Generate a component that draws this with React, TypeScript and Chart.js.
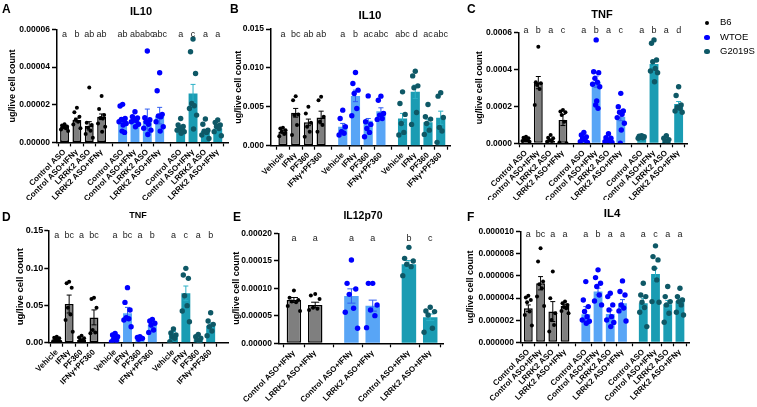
import React, { useEffect, useRef } from 'react';
import { Chart, registerables } from 'chart.js';
Chart.register(...registerables);

const FONT = '"Liberation Sans", Arial, Helvetica, sans-serif';
const GAP = 0.7;

const GROUPS = ['B6', 'WTOE', 'G2019S'];
const ASO_CATS = ['Control ASO', 'Control ASO+IFNγ', 'LRRK2 ASO', 'LRRK2 ASO+IFNγ'];
const PF_CATS = ['Vehicle', 'IFNγ', 'PF360', 'IFNγ+PF360'];
const IL12_CATS = ['Control ASO+IFNγ', 'LRRK2 ASO+IFNγ'];
const Y_TITLE = 'ug/live cell count';

// ---------- Panel A: IL10 (ASO) ----------
const A_TICKS = ['0.00000', '0.00002', '0.00004', '0.00006'];
const A_MEANS = [0.83e-5, 1.19e-5, 0.88e-5, 1.36e-5, 1.19e-5, 1.19e-5, 1.13e-5, 1.42e-5, 0.74e-5, 2.6e-5, 0.6e-5, 0.74e-5];
const A_SEM = [0.05e-5, 0.1e-5, 0.22e-5, 0.15e-5, 0.12e-5, 0.08e-5, 0.64e-5, 0.44e-5, 0.06e-5, 0.48e-5, 0.08e-5, 0.07e-5];
const A_POINTS = [
  [0.96e-5, 0.9e-5, 0.85e-5, 0.8e-5, 0.75e-5, 0.68e-5, 0.6e-5],
  [1.84e-5, 1.6e-5, 1.36e-5, 1.2e-5, 1.1e-5, 0.95e-5, 0.75e-5],
  [2.92e-5, 1.05e-5, 0.92e-5, 0.78e-5, 0.62e-5, 0.45e-5, 0.25e-5],
  [2.46e-5, 1.77e-5, 1.45e-5, 1.3e-5, 1.27e-5, 1.0e-5, 0.83e-5, 0.57e-5],
  [2.02e-5, 1.93e-5, 1.27e-5, 1.22e-5, 1.19e-5, 1.1e-5, 1.0e-5, 0.92e-5, 0.6e-5, 0.53e-5],
  [1.63e-5, 1.36e-5, 1.3e-5, 1.22e-5, 1.15e-5, 1.1e-5, 0.96e-5, 0.83e-5],
  [4.85e-5, 1.31e-5, 1.2e-5, 1.1e-5, 0.96e-5, 0.75e-5, 0.65e-5, 0.42e-5],
  [3.7e-5, 2.74e-5, 1.49e-5, 1.4e-5, 1.36e-5, 1.1e-5, 0.83e-5, 0.6e-5],
  [1.27e-5, 0.92e-5, 0.85e-5, 0.78e-5, 0.7e-5, 0.65e-5, 0.57e-5, 0.48e-5],
  [5.49e-5, 4.81e-5, 3.66e-5, 2.07e-5, 1.95e-5, 1.8e-5, 1.45e-5, 0.71e-5],
  [1.24e-5, 0.96e-5, 0.65e-5, 0.6e-5, 0.53e-5, 0.39e-5, 0.21e-5],
  [1.19e-5, 1.06e-5, 0.92e-5, 0.85e-5, 0.74e-5, 0.57e-5, 0.35e-5],
];
const A_LETTERS = ['a', 'b', 'ab', 'ab', 'ab', 'ab', 'abc', 'abc', 'a', 'c', 'a', 'a'];

// ---------- Panel B: IL10 (PF360) ----------
const B_TICKS = ['0.000', '0.005', '0.010', '0.015'];
const B_MEANS = [1.8e-3, 4.23e-3, 3.0e-3, 3.63e-3, 2.44e-3, 6.4e-3, 3.2e-3, 4.44e-3, 3.5e-3, 6.92e-3, 3.0e-3, 3.59e-3];
const B_SEM = [0.2e-3, 0.56e-3, 0.42e-3, 0.81e-3, 0.42e-3, 0.74e-3, 0.3e-3, 0.43e-3, 0.65e-3, 0.86e-3, 0.4e-3, 0.85e-3];
const B_POINTS = [
  [2.3e-3, 2.2e-3, 2.0e-3, 1.8e-3, 1.5e-3, 1.2e-3],
  [6.37e-3, 5.85e-3, 4.0e-3, 3.93e-3, 2.65e-3, 1.37e-3],
  [5.0e-3, 4.15e-3, 2.95e-3, 2.44e-3, 1.8e-3, 1.15e-3],
  [6.28e-3, 5.85e-3, 3.72e-3, 3.08e-3, 2.65e-3, 1.8e-3],
  [4.57e-3, 3.5e-3, 2.44e-3, 1.8e-3, 1.6e-3, 1.37e-3],
  [9.4e-3, 8.0e-3, 7.14e-3, 6.7e-3, 4.79e-3, 3.85e-3],
  [6.4e-3, 3.08e-3, 2.74e-3, 2.22e-3, 1.71e-3, 1.15e-3],
  [6.37e-3, 5.85e-3, 4.15e-3, 3.93e-3, 3.5e-3, 3.38e-3],
  [6.92e-3, 5.43e-3, 4.02e-3, 2.86e-3, 1.71e-3, 1.37e-3],
  [9.57e-3, 8.97e-3, 7.69e-3, 7.44e-3, 4.27e-3, 2.74e-3],
  [5.3e-3, 3.72e-3, 3.42e-3, 2.86e-3, 2.0e-3, 1.45e-3],
  [6.8e-3, 6.37e-3, 3.63e-3, 2.35e-3, 1.88e-3, 0.43e-3],
];
const B_LETTERS = ['a', 'bc', 'ab', 'ab', 'a', 'b', 'ac', 'abc', 'abc', 'd', 'ac', 'abc'];

// ---------- Panel C: TNF (ASO) ----------
const C_TICKS = ['0.0000', '0.0002', '0.0004', '0.0006'];
const C_MEANS = [0.18e-4, 3.28e-4, 0.14e-4, 1.26e-4, 0.13e-4, 3.33e-4, 0.09e-4, 1.44e-4, 0.36e-4, 4.29e-4, 0.09e-4, 2.13e-4];
const C_SEM = [0.03e-4, 0.33e-4, 0.04e-4, 0.3e-4, 0.06e-4, 0.3e-4, 0.05e-4, 0.22e-4, 0.02e-4, 0.15e-4, 0.04e-4, 0.13e-4];
const C_POINTS = [
  [0.36e-4, 0.3e-4, 0.27e-4, 0.22e-4, 0.18e-4, 0.12e-4, 0.09e-4],
  [5.22e-4, 3.3e-4, 3.24e-4, 3.15e-4, 2.94e-4, 2.07e-4],
  [0.45e-4, 0.3e-4, 0.27e-4, 0.18e-4, 0.12e-4, 0.09e-4],
  [1.8e-4, 1.72e-4, 1.68e-4, 1.53e-4, 1.17e-4, 0.05e-4, 0.0],
  [0.59e-4, 0.45e-4, 0.35e-4, 0.27e-4, 0.18e-4, 0.09e-4, 0.05e-4],
  [5.59e-4, 3.87e-4, 3.82e-4, 3.51e-4, 3.3e-4, 3.19e-4, 3.06e-4, 2.29e-4, 2.07e-4, 1.89e-4],
  [0.52e-4, 0.3e-4, 0.27e-4, 0.18e-4, 0.12e-4, 0.09e-4, 0.05e-4],
  [2.7e-4, 1.98e-4, 1.75e-4, 1.68e-4, 1.57e-4, 1.39e-4, 1.08e-4, 0.72e-4, 0.0],
  [0.41e-4, 0.38e-4, 0.36e-4, 0.33e-4, 0.3e-4, 0.27e-4],
  [5.59e-4, 5.41e-4, 4.5e-4, 4.41e-4, 4.05e-4, 3.91e-4, 3.82e-4, 3.33e-4],
  [0.41e-4, 0.27e-4, 0.2e-4, 0.13e-4, 0.05e-4],
  [3.06e-4, 2.58e-4, 2.07e-4, 1.95e-4, 1.89e-4, 1.75e-4, 1.68e-4],
];
const C_LETTERS = ['a', 'b', 'a', 'c', 'a', 'b', 'a', 'c', 'a', 'b', 'a', 'd'];

// ---------- Panel D: TNF (PF360) ----------
const D_TICKS = ['0.00', '0.05', '0.10', '0.15'];
const D_MEANS = [0.36e-2, 5.18e-2, 0.36e-2, 3.39e-2, 0.58e-2, 3.93e-2, 0.36e-2, 2.37e-2, 1.25e-2, 6.61e-2, 0.45e-2, 2.28e-2];
const D_SEM = [0.08e-2, 1.2e-2, 0.08e-2, 1.0e-2, 0.12e-2, 0.8e-2, 0.06e-2, 0.3e-2, 0.25e-2, 0.98e-2, 0.1e-2, 0.35e-2];
const D_POINTS = [
  [0.8e-2, 0.65e-2, 0.58e-2, 0.45e-2, 0.36e-2, 0.2e-2, 0.13e-2],
  [8.17e-2, 7.95e-2, 7.37e-2, 4.69e-2, 3.79e-2, 3.04e-2, 1.47e-2],
  [0.94e-2, 0.7e-2, 0.58e-2, 0.4e-2, 0.22e-2],
  [6.03e-2, 5.85e-2, 4.69e-2, 1.7e-2, 1.38e-2, 1.25e-2],
  [1.25e-2, 1.03e-2, 0.8e-2, 0.58e-2, 0.3e-2, 0.13e-2],
  [7.37e-2, 5.4e-2, 4.38e-2, 3.35e-2, 3.2e-2, 3.04e-2, 2.14e-2],
  [0.8e-2, 0.7e-2, 0.58e-2, 0.45e-2],
  [3.13e-2, 2.9e-2, 2.6e-2, 2.37e-2, 1.7e-2, 1.38e-2],
  [1.83e-2, 1.3e-2, 1.03e-2, 0.8e-2, 0.58e-2, 0.13e-2],
  [9.96e-2, 9.06e-2, 8.62e-2, 6.29e-2, 4.96e-2, 4.24e-2, 2.81e-2],
  [1.12e-2, 0.8e-2, 0.6e-2, 0.36e-2, 0.13e-2],
  [4.02e-2, 2.9e-2, 2.46e-2, 2.14e-2, 1.56e-2, 0.94e-2],
];
const D_LETTERS = ['a', 'bc', 'a', 'bc', 'a', 'bc', 'a', 'b', 'a', 'c', 'a', 'b'];

// ---------- Panel E: IL12p70 ----------
const E_TICKS = ['0.00000', '0.00005', '0.00010', '0.00015', '0.00020'];
const E_MEANS = [7.88e-5, 6.97e-5, 8.6e-5, 6.85e-5, 14.36e-5, 4.73e-5];
const E_SEM = [0.45e-5, 0.5e-5, 1.3e-5, 1.0e-5, 0.7e-5, 0.6e-5];
const E_POINTS = [
  [9.58e-5, 8.3e-5, 7.88e-5, 7.6e-5, 7.45e-5, 6.79e-5, 5.88e-5],
  [8.97e-5, 8.67e-5, 8.06e-5, 6.48e-5, 6.3e-5, 6.06e-5],
  [15.15e-5, 10.9e-5, 9.88e-5, 8.9e-5, 6.36e-5, 5.64e-5, 2.73e-5],
  [10.9e-5, 10.9e-5, 6.97e-5, 6.06e-5, 5.03e-5, 2.85e-5],
  [17.45e-5, 15.45e-5, 14.97e-5, 14.36e-5, 13.94e-5, 12.3e-5],
  [6.55e-5, 5.88e-5, 5.76e-5, 5.15e-5, 2.73e-5, 2.0e-5],
];
const E_LETTERS = ['a', 'a', 'a', 'a', 'b', 'c'];

// ---------- Panel F: IL4 ----------
const F_TICKS = ['0.000000', '0.000002', '0.000004', '0.000006', '0.000008', '0.000010'];
const F_MEANS = [3.08e-6, 5.34e-6, 2.78e-6, 3.29e-6, 2.53e-6, 4.59e-6, 2.56e-6, 3.53e-6, 3.53e-6, 6.18e-6, 3.44e-6, 3.74e-6];
const F_SEM = [0.3e-6, 0.6e-6, 0.9e-6, 0.15e-6, 0.7e-6, 0.3e-6, 0.35e-6, 0.33e-6, 0.45e-6, 0.52e-6, 0.35e-6, 0.25e-6];
const F_POINTS = [
  [4.22e-6, 4.04e-6, 3.83e-6, 3.62e-6, 2.78e-6, 2.47e-6, 1.51e-6],
  [8.5e-6, 7.3e-6, 5.49e-6, 5.25e-6, 4.89e-6, 4.13e-6, 3.29e-6],
  [6.4e-6, 3.98e-6, 2.62e-6, 2.02e-6, 1.57e-6, 0.97e-6],
  [3.68e-6, 3.53e-6, 3.38e-6, 3.2e-6, 3.08e-6, 2.84e-6, 2.62e-6],
  [5.49e-6, 3.83e-6, 3.23e-6, 2.78e-6, 2.32e-6, 2.02e-6, 1.9e-6, 1.72e-6],
  [6.55e-6, 5.85e-6, 5.34e-6, 5.04e-6, 4.28e-6, 3.74e-6, 3.38e-6],
  [4.43e-6, 4.13e-6, 3.38e-6, 2.93e-6, 2.32e-6, 2.02e-6, 1.8e-6, 1.42e-6],
  [5.55e-6, 4.59e-6, 4.28e-6, 3.38e-6, 3.1e-6, 2.84e-6, 1.93e-6],
  [5.34e-6, 4.28e-6, 4.13e-6, 3.62e-6, 3.14e-6, 2.72e-6, 1.42e-6],
  [8.72e-6, 7.75e-6, 7.45e-6, 6.7e-6, 5.64e-6, 3.68e-6, 3.62e-6],
  [5.04e-6, 4.13e-6, 3.68e-6, 3.38e-6, 2.62e-6, 1.81e-6],
  [4.89e-6, 4.13e-6, 3.83e-6, 3.68e-6, 3.38e-6, 2.72e-6, 2.47e-6],
];
const F_LETTERS = ['a', 'bc', 'a', 'a', 'a', 'b', 'a', 'a', 'a', 'c', 'a', 'a'];

// ---------- styles ----------
const BAR_FILL = ['#7f7f7f', '#58a5f6', '#1a9cb3'];
const BAR_BORDER = ['#000000', '#58a5f6', '#1a9cb3'];
const BAR_BW = [1.5, 0, 0];
const POINT_COLOR = ['#000000', '#0000ff', '#0e5866'];
const POINT_R = [2.0, 2.7, 2.7];
const ERR_COLOR = ['#000000', '#2f5cf2', '#2bb0c6'];
const SPREAD = [0, -0.6, 0.6, -0.3, 0.3, -0.85, 0.85, 0.12, -0.12, 0.45];

type PanelDef = {
  x: number; y: number; w: number; h: number;
  ca: number[]; xMin: number; xMax: number;
  cats: string[]; ticks: string[]; means: number[]; sem: number[]; points: number[][]; letters: string[];
  title: string; titleX: number; titleY: number; titleSize: number;
  letterDy: number; yTitleCx: number; yTickSize: number; yTitleSize: number; barPct: number;
  tickLen: number; tickPad: number;
};

function Panel({ p }: { p: PanelDef }) {
  const ref = useRef<HTMLCanvasElement>(null);
  useEffect(() => {
    const canvas = ref.current;
    if (!canvas) return;
    const per = p.cats.length;
    const groupOf = (i: number) => Math.floor(i / per);
    const pos = p.means.map((_, i) => groupOf(i) * (per + GAP) + (i % per));
    const labels = p.means.map((_, i) => p.cats[i % per]);
    const tickVals = p.ticks.map(Number);
    const W = p.w, H = p.h;
    const caL = p.ca[0] - p.x, caT = p.ca[1] - p.y, caR = p.ca[2] - p.x, caB = p.ca[3] - p.y;

    const scatterSets = GROUPS.map((g, gi) => {
      const data: { x: number; y: number }[] = [];
      p.points.forEach((arr, i) => {
        if (groupOf(i) !== gi) return;
        const sorted = [...arr].sort((a, b) => b - a);
        sorted.forEach((v, j) => data.push({ x: pos[i] + SPREAD[j % SPREAD.length] * 0.34, y: v }));
      });
      return {
        type: 'scatter' as const,
        label: g,
        data,
        order: 1,
        pointRadius: POINT_R[gi],
        pointHoverRadius: POINT_R[gi],
        backgroundColor: POINT_COLOR[gi],
        borderColor: POINT_COLOR[gi],
        borderWidth: 0,
      };
    });

    const barSet = {
      type: 'bar' as const,
      label: 'mean',
      data: p.means.map((m, i) => ({ x: pos[i], y: m })),
      backgroundColor: p.means.map((_, i) => BAR_FILL[groupOf(i)]),
      borderColor: p.means.map((_, i) => BAR_BORDER[groupOf(i)]),
      borderWidth: p.means.map((_, i) => BAR_BW[groupOf(i)]),
      borderSkipped: false,
      barPercentage: p.barPct,
      categoryPercentage: 0.8,
      order: 2,
    };

    const annot = {
      id: 'annot',
      afterDatasetDraw(chart: any, args: any) {
        if (args.index !== 0) return;
        const meta = chart.getDatasetMeta(0);
        const ys = chart.scales.y;
        const ctx = chart.ctx;
        meta.data.forEach((bar: any, i: number) => {
          const m = p.means[i], s = p.sem[i];
          const x = bar.x;
          const yT = ys.getPixelForValue(m + s);
          const yB = ys.getPixelForValue(Math.max(0, m - s));
          const cw = bar.width * 0.28;
          ctx.save();
          ctx.strokeStyle = ERR_COLOR[groupOf(i)];
          ctx.lineWidth = 1;
          ctx.beginPath();
          ctx.moveTo(x, yT); ctx.lineTo(x, yB);
          ctx.moveTo(x - cw, yT); ctx.lineTo(x + cw, yT);
          ctx.moveTo(x - cw, yB); ctx.lineTo(x + cw, yB);
          ctx.stroke();
          ctx.restore();
        });
      },
      afterDraw(chart: any) {
        const ctx = chart.ctx;
        const meta = chart.getDatasetMeta(0);
        ctx.save();
        ctx.fillStyle = '#222';
        ctx.font = `9px ${FONT}`;
        ctx.textAlign = 'center';
        ctx.textBaseline = 'alphabetic';
        meta.data.forEach((bar: any, i: number) => {
          ctx.fillText(p.letters[i], bar.x, chart.chartArea.top + p.letterDy);
        });
        ctx.fillStyle = '#000';
        ctx.font = `bold ${p.titleSize}px ${FONT}`;
        ctx.fillText(p.title, p.titleX - p.x, p.titleY - p.y);
        ctx.restore();
      },
    };

    const chart = new Chart(canvas, {
      type: 'bar',
      data: { datasets: [barSet as any, ...(scatterSets as any)] },
      options: {
        animation: false,
        responsive: false,
        maintainAspectRatio: false,
        events: [],
        layout: { padding: { left: 0, top: caT, right: W - caR, bottom: 0 } },
        plugins: { legend: { display: false }, tooltip: { enabled: false }, title: { display: false } },
        scales: {
          x: {
            type: 'linear',
            min: p.xMin,
            max: p.xMax,
            offset: false,
            afterFit: (s: any) => { s.height = H - caB; s.paddingLeft = 0; s.paddingRight = 0; },
            afterBuildTicks: (s: any) => { s.ticks = pos.map((v) => ({ value: v })); },
            ticks: {
              autoSkip: false,
              minRotation: 45,
              maxRotation: 45,
              padding: 1,
              color: '#000',
              font: { family: FONT, size: 8, weight: 'bold' },
              callback: (_v: any, i: number) => labels[i],
            },
            grid: { drawOnChartArea: false, drawTicks: true, tickLength: 4, tickColor: '#000', tickWidth: 1.2 },
            border: { display: true, color: '#000', width: 1.5 },
          },
          y: {
            type: 'linear',
            min: 0,
            max: tickVals[tickVals.length - 1],
            afterFit: (s: any) => { s.width = caL; s.paddingTop = 0; s.paddingBottom = 0; },
            afterBuildTicks: (s: any) => { s.ticks = tickVals.map((v) => ({ value: v })); },
            ticks: {
              padding: p.tickPad,
              color: '#000',
              font: { family: FONT, size: p.yTickSize, weight: 'bold' },
              callback: (_v: any, i: number) => p.ticks[i],
            },
            grid: { drawOnChartArea: false, drawTicks: true, tickLength: p.tickLen, tickColor: '#000', tickWidth: 1.5 },
            border: { display: true, color: '#000', width: 1.5 },
            title: {
              display: true,
              text: Y_TITLE,
              color: '#000',
              font: { family: FONT, size: p.yTitleSize, weight: 'bold' },
              padding: { top: p.yTitleCx - p.x - (p.yTitleSize * 1.2) / 2, bottom: 0 },
            },
          },
        },
      } as any,
      plugins: [annot as any],
    });
    return () => chart.destroy();
  }, [p]);
  return (
    <canvas
      ref={ref}
      width={p.w}
      height={p.h}
      style={{ position: 'absolute', left: p.x, top: p.y, width: p.w, height: p.h }}
    />
  );
}

const PANELS: PanelDef[] = [
  { x: 0, y: 0, w: 235, h: 200, ca: [57, 29.4, 228, 142.4], xMin: -0.61, xMax: 13.23,
    cats: ASO_CATS, ticks: A_TICKS, means: A_MEANS, sem: A_SEM, points: A_POINTS, letters: A_LETTERS,
    title: 'IL10', titleX: 141, titleY: 15, titleSize: 11, letterDy: 7.3, yTitleCx: 12.5, yTickSize: 8.5, yTitleSize: 9, barPct: 0.9, tickLen: 5, tickPad: 2 },
  { x: 230, y: 0, w: 238, h: 200, ca: [271, 29, 450, 145.7], xMin: -0.94, xMax: 13.13,
    cats: PF_CATS, ticks: B_TICKS, means: B_MEANS, sem: B_SEM, points: B_POINTS, letters: B_LETTERS,
    title: 'IL10', titleX: 370, titleY: 19, titleSize: 11.5, letterDy: 7.7, yTitleCx: 239, yTickSize: 8.5, yTitleSize: 9, barPct: 0.9, tickLen: 5, tickPad: 2 },
  { x: 468, y: 0, w: 232, h: 200, ca: [519, 32.3, 687, 143.3], xMin: -0.57, xMax: 13.08,
    cats: ASO_CATS, ticks: C_TICKS, means: C_MEANS, sem: C_SEM, points: C_POINTS, letters: C_LETTERS,
    title: 'TNF', titleX: 602, titleY: 18, titleSize: 11, letterDy: 1, yTitleCx: 480, yTickSize: 8.5, yTitleSize: 9, barPct: 0.9, tickLen: 5, tickPad: 2 },
  { x: 0, y: 200, w: 235, h: 207, ca: [48.3, 230.7, 228.3, 342.7], xMin: -0.68, xMax: 13.82,
    cats: PF_CATS, ticks: D_TICKS, means: D_MEANS, sem: D_SEM, points: D_POINTS, letters: D_LETTERS,
    title: 'TNF', titleX: 138, titleY: 218, titleSize: 9, letterDy: 7, yTitleCx: 20, yTickSize: 9, yTitleSize: 9.5, barPct: 0.9, tickLen: 4, tickPad: 1 },
  { x: 228, y: 200, w: 240, h: 207, ca: [279, 233.3, 443, 343.3], xMin: -0.7, xMax: 7.0,
    cats: IL12_CATS, ticks: E_TICKS, means: E_MEANS, sem: E_SEM, points: E_POINTS, letters: E_LETTERS,
    title: 'IL12p70', titleX: 363, titleY: 218.5, titleSize: 10.5, letterDy: 7.7, yTitleCx: 237, yTickSize: 8.5, yTitleSize: 9, barPct: 0.85, tickLen: 5, tickPad: 2 },
  { x: 462, y: 200, w: 240, h: 207, ca: [521, 231.7, 689, 342.3], xMin: -0.6, xMax: 13.14,
    cats: ASO_CATS, ticks: F_TICKS, means: F_MEANS, sem: F_SEM, points: F_POINTS, letters: F_LETTERS,
    title: 'IL4', titleX: 612, titleY: 217, titleSize: 11.5, letterDy: 5, yTitleCx: 471, yTickSize: 8.5, yTitleSize: 9, barPct: 0.9, tickLen: 5, tickPad: 2 },
];

const PANEL_LETTERS = [
  { t: 'A', x: 2, base: 13.5 },
  { t: 'B', x: 230, base: 13.5 },
  { t: 'C', x: 467, base: 13.5 },
  { t: 'D', x: 2, base: 221 },
  { t: 'E', x: 233, base: 221 },
  { t: 'F', x: 467, base: 221.5 },
];

const LEGEND_Y = [22.7, 37.3, 51.7];

export default function App() {
  return (
    <div style={{ position: 'absolute', left: 0, top: 0, width: 757, height: 407, background: '#fff', overflow: 'hidden' }}>
      {PANELS.map((p, i) => <Panel key={i} p={p} />)}
      {PANEL_LETTERS.map((l) => (
        <div key={l.t} style={{ position: 'absolute', left: l.x, top: l.base - 10.2, fontFamily: FONT, fontWeight: 'bold', fontSize: 12, lineHeight: '12px', color: '#000' }}>{l.t}</div>
      ))}
      {GROUPS.map((g, i) => (
        <React.Fragment key={g}>
          <div style={{ position: 'absolute', left: 707 - POINT_R[i], top: LEGEND_Y[i] - POINT_R[i], width: POINT_R[i] * 2, height: POINT_R[i] * 2, borderRadius: '50%', background: POINT_COLOR[i] }} />
          <div style={{ position: 'absolute', left: 720, top: LEGEND_Y[i] - 6.5, fontFamily: FONT, fontSize: 9.5, lineHeight: '12px', color: '#000', whiteSpace: 'nowrap' }}>{g}</div>
        </React.Fragment>
      ))}
    </div>
  );
}
